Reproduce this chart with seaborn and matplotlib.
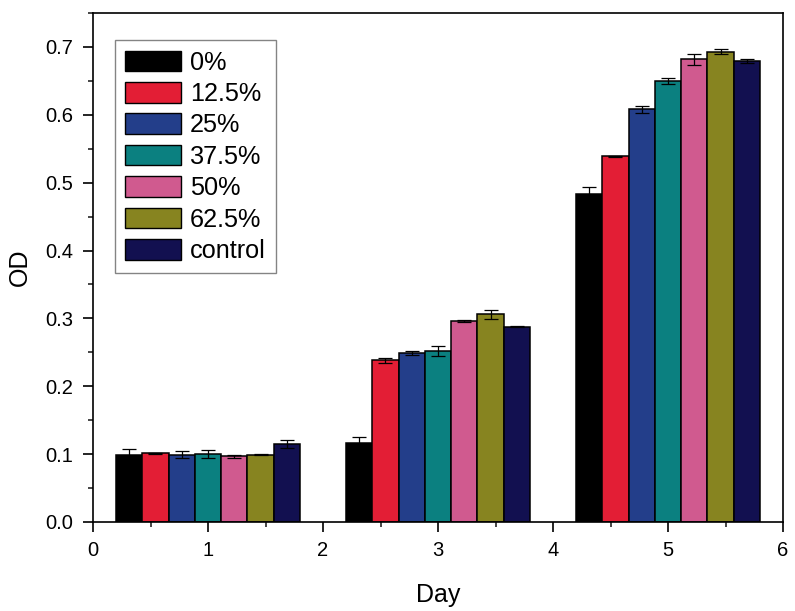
import numpy as np
import pandas as pd
import matplotlib
matplotlib.use("Agg")
import matplotlib.pyplot as plt
from matplotlib.ticker import MultipleLocator
from matplotlib.patches import Patch
import seaborn as sns

days = [1, 3, 5]
groups = ["0%", "12.5%", "25%", "37.5%", "50%", "62.5%", "control"]
od_day1 = [0.098, 0.101, 0.099, 0.100, 0.097, 0.099, 0.115]
od_day3 = [0.117, 0.238, 0.249, 0.252, 0.296, 0.306, 0.288]
od_day5 = [0.484, 0.539, 0.608, 0.650, 0.682, 0.693, 0.679]
err_day1 = [0.009, 0.001, 0.005, 0.006, 0.002, 0.001, 0.006]
err_day3 = [0.008, 0.003, 0.003, 0.007, 0.001, 0.007, 0.001]
err_day5 = [0.009, 0.001, 0.005, 0.004, 0.008, 0.004, 0.003]
colors = ["#000000", "#E31E35", "#233E8A", "#0B8080", "#D05A8F", "#878420", "#121050"]

rows = []
for d, vals, errs in zip(days, [od_day1, od_day3, od_day5], [err_day1, err_day3, err_day5]):
    for g, v, e in zip(groups, vals, errs):
        rows.append({"Day": d, "Group": g, "OD": v, "err": e})
df = pd.DataFrame(rows)

sns.set_style("ticks")
plt.rcParams["font.family"] = ["Liberation Sans", "DejaVu Sans"]
plt.rcParams["axes.linewidth"] = 1.2
plt.rcParams["text.color"] = "black"
plt.rcParams["axes.labelcolor"] = "black"

fig = plt.figure(figsize=(7.95, 6.11), dpi=100)
ax = fig.add_axes([0.117, 0.1457, 0.868, 0.833])

sns.barplot(data=df, x="Day", y="OD", hue="Group", hue_order=groups,
            palette=colors, saturation=1, native_scale=True, errorbar=None,
            edgecolor="black", linewidth=1.1, ax=ax, legend=False)

# error bars placed on the bars drawn by seaborn
for cont, g in zip(ax.containers, groups):
    sub = df[df["Group"] == g].set_index("Day")
    for bar in cont:
        xc = bar.get_x() + bar.get_width() / 2
        h = bar.get_height()
        d = min(days, key=lambda k: abs(k - xc))
        ax.errorbar(xc, h, yerr=sub.loc[d, "err"], fmt="none", ecolor="black",
                    elinewidth=0.9, capsize=5, capthick=0.9)

handles = [Patch(facecolor=c, edgecolor="black", linewidth=1.0) for c in colors]
leg = ax.legend(handles, groups, loc="upper left", bbox_to_anchor=(0.032, 0.946),
                fontsize=18.2, frameon=True, fancybox=False, edgecolor="#666666",
                handlelength=2.2, handleheight=0.88, labelspacing=0.29,
                handletextpad=0.35, borderpad=0.4, borderaxespad=0)
leg.get_frame().set_linewidth(1.0)
for t in leg.get_texts():
    t.set_color("black")

ax.set_xlim(0, 6)
ax.set_ylim(0, 0.75)
ax.set_xticks(range(0, 7))
ax.set_xticklabels([str(i) for i in range(0, 7)])
ax.xaxis.set_minor_locator(MultipleLocator(0.5))
ax.set_yticks(np.arange(0, 0.71, 0.1))
ax.set_yticklabels([f"{v:.1f}" for v in np.arange(0, 0.71, 0.1)])
ax.yaxis.set_minor_locator(MultipleLocator(0.05))
ax.tick_params(axis="both", which="major", direction="out", length=7, width=1.2,
               labelsize=14.5, colors="black", top=False, right=False, pad=7)
ax.tick_params(axis="both", which="minor", direction="out", length=3.5, width=1.2,
               top=False, right=False)
for s in ax.spines.values():
    s.set_visible(True)
    s.set_color("black")
    s.set_linewidth(1.2)

ax.set_xlabel("Day", fontsize=18, labelpad=16)
ax.set_ylabel("OD", fontsize=18, labelpad=10)

fig.savefig("out.png", dpi=100)
